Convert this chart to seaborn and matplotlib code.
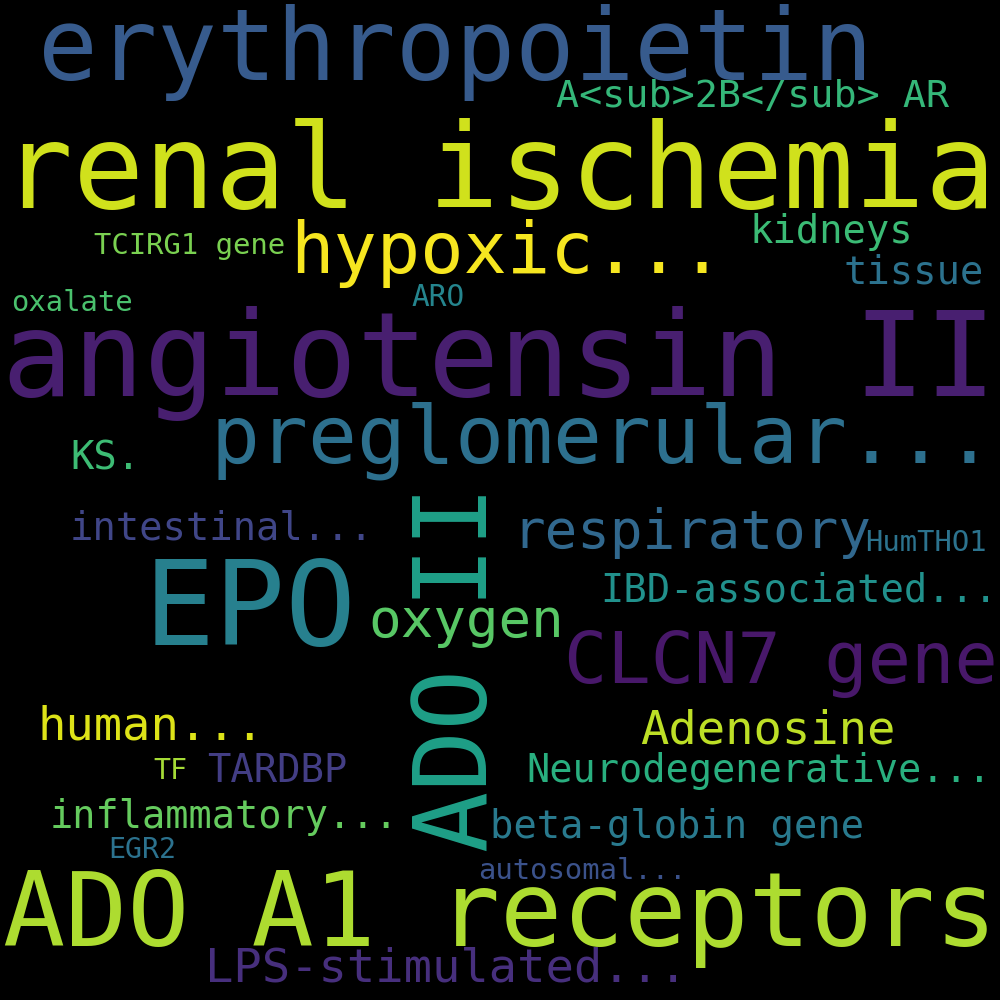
import matplotlib
matplotlib.use("Agg")
import matplotlib.pyplot as plt
import seaborn as sns

# word cloud terms and their relative weights
words = [
    "renal ischemia", "angiotensin II", "EPO", "ADO A1 receptors", "erythropoietin",
    "ADO II", "preglomerular...", "CLCN7 gene", "hypoxic...", "respiratory",
    "oxygen", "human...", "Adenosine", "LPS-stimulated...", "A<sub>2B</sub> AR",
    "IBD-associated...", "Neurodegenerative...", "inflammatory...", "beta-globin gene",
    "intestinal...", "kidneys", "tissue", "TARDBP", "KS.", "HumTHO1",
    "TCIRG1 gene", "oxalate", "ARO", "EGR2", "autosomal...", "TF",
]
weights = [
    1.00, 1.00, 1.00, 0.875, 0.84,
    0.86, 0.69, 0.61, 0.61, 0.46,
    0.46, 0.40, 0.40, 0.40, 0.325,
    0.328, 0.327, 0.327, 0.33,
    0.33, 0.33, 0.33, 0.33, 0.33, 0.245,
    0.245, 0.245, 0.25, 0.24, 0.245, 0.24,
]
colors = [
    "#d0e11c", "#481f70", "#27808e", "#addc30", "#375b8d",
    "#1fa088", "#2d708e", "#48186a", "#f6e620", "#31688e",
    "#58c765", "#dde318", "#bddf26", "#472f7d", "#35b779",
    "#21918c", "#29af7f", "#65cb5e", "#297a8e",
    "#404688", "#3bbb75", "#2c728e", "#433e85", "#3dbc74", "#2c738e",
    "#7ad151", "#4ac16d", "#25858e", "#2c728e", "#3b528b", "#a5db36",
]

# placement of each word: left x, baseline y (pixels), rotation
layout = {
    "renal ischemia": (2, 208, 0),
    "angiotensin II": (2, 396, 0),
    "EPO": (144, 645, 0),
    "ADO A1 receptors": (3, 946, 0),
    "erythropoietin": (38, 80, 0),
    "ADO II": (487, 852, 90),
    "preglomerular...": (210, 462, 0),
    "CLCN7 gene": (564, 683, 0),
    "hypoxic...": (290, 273, 0),
    "respiratory": (512, 548, 0),
    "oxygen": (368, 637, 0),
    "human...": (37, 740, 0),
    "Adenosine": (640, 744, 0),
    "LPS-stimulated...": (205, 982, 0),
    "A<sub>2B</sub> AR": (556, 107, 0),
    "IBD-associated...": (600, 602, 0),
    "Neurodegenerative...": (526, 782, 0),
    "inflammatory...": (50, 828, 0),
    "beta-globin gene": (490, 838, 0),
    "intestinal...": (70, 540, 0),
    "kidneys": (749, 243, 0),
    "tissue": (843, 284, 0),
    "TARDBP": (207, 782, 0),
    "KS.": (70, 470, 0),
    "HumTHO1": (865, 551, 0),
    "TCIRG1 gene": (94, 254, 0),
    "oxalate": (11, 311, 0),
    "ARO": (411, 306, 0),
    "EGR2": (108, 858, 0),
    "autosomal...": (478, 879, 0),
    "TF": (153, 779, 0),
}

max_px = 118
dpi = 100

sns.set_theme(style="white")
plt.rcParams["font.family"] = ["DejaVu Sans Mono", "DejaVu Sans"]

fig = plt.figure(figsize=(10, 10), dpi=dpi, facecolor="black")
ax = fig.add_axes([0, 0, 1, 1])
ax.set_facecolor("black")
ax.set_xlim(0, 1000)
ax.set_ylim(1000, 0)
ax.axis("off")

for word, w, c in zip(words, weights, colors):
    x, y, rot = layout[word]
    size_pt = w * max_px * 72 / dpi
    ax.text(x, y, word, fontsize=size_pt, color=c, rotation=rot,
            rotation_mode="anchor", ha="left", va="baseline")

fig.savefig("out.png", dpi=dpi, facecolor="black")
